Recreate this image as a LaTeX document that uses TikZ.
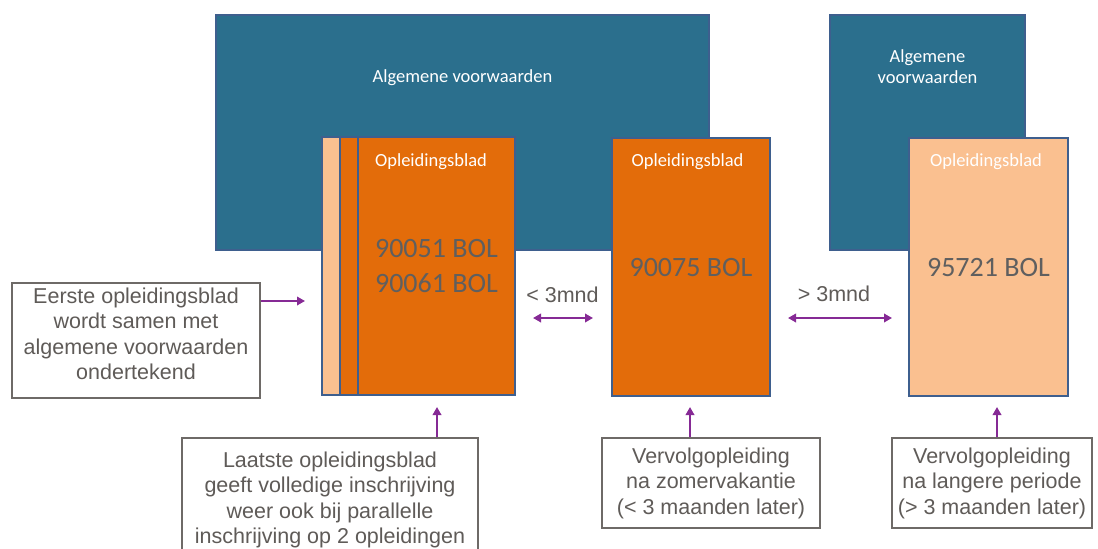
\documentclass[tikz,border=0pt]{standalone}
\usepackage{fontspec}
\setmainfont{Liberation Sans}
\newfontfamily\calib{Carlito}
\usetikzlibrary{arrows.meta}

\definecolor{avblue}{HTML}{2B6F8D}
\definecolor{edgeblue}{HTML}{3E5F8E}
\definecolor{sheetorange}{HTML}{E36C0A}
\definecolor{sheetpeach}{HTML}{FAC090}
\definecolor{numgray}{HTML}{5F5F5F}
\definecolor{notegray}{HTML}{6E6A67}
\definecolor{notetext}{HTML}{5F5B58}
\definecolor{linkpurple}{HTML}{862A95}

\begin{document}
\begin{tikzpicture}[x=1pt,y=-1pt,
  avbox/.style={draw=edgeblue,line width=1.5pt,fill=avblue,inner sep=0pt,minimum height=235pt},
  avtext/.style={text=white,align=center,font=\calib\fontsize{18.5}{21}\selectfont},
  sheet/.style={draw=edgeblue,line width=2pt,inner sep=0pt,minimum width=157pt,minimum height=258pt},
  sheettitle/.style={text=white,font=\calib\fontsize{18.5}{22}\selectfont},
  sheetnum/.style={text=numgray,align=center,font=\calib\fontsize{28}{35}\selectfont},
  note/.style={draw=notegray,line width=1.8pt,fill=white,align=center,text=notetext,
    font=\fontsize{21.5}{25.5}\selectfont,inner sep=0pt},
  notetxt/.style={align=center,text=notetext,font=\fontsize{21.5}{25.5}\selectfont,inner sep=0pt},
  gaplabel/.style={text=notetext,font=\fontsize{21.5}{25}\selectfont},
  link/.style={draw=linkpurple,line width=1.9pt,-{Triangle[length=8pt,width=8.5pt]}},
  dlink/.style={draw=linkpurple,line width=1.9pt,{Triangle[length=8pt,width=8.5pt]}-{Triangle[length=8pt,width=8.5pt]}}]

\useasboundingbox (0,0) rectangle (1098,549);
\clip (0,0) rectangle (1098,549);

% general terms blocks
\node[avbox,minimum width=493pt] (av1) at (462.5,132.5) {};
\node[avtext] (av1t) at (462.5,78) {Algemene voorwaarden};
\node[avbox,minimum width=195pt] (av2) at (927.5,132.5) {};
\node[avtext] (av2t) at (927.5,67) {Algemene\\voorwaarden};

% stacked programme sheets (back to front)
\node[sheet,fill=sheetpeach] (s1c) at (400.5,266) {};
\node[sheet,fill=sheetorange] (s1b) at (418.5,266) {};
\node[sheet,fill=sheetorange] (s1) at (436.5,266) {};
\node[sheettitle] (s1t) at (431,162) {Opleidingsblad};
\node[sheetnum] (s1n) at (436.5,266.5) {90051 BOL\\90061 BOL};

% second programme
\node[sheet,fill=sheetorange,minimum width=158pt] (s2) at (691,266.5) {};
\node[sheettitle] (s2t) at (687.5,162) {Opleidingsblad};
\node[sheetnum] (s2n) at (691,268) {90075 BOL};

% third programme
\node[sheet,fill=sheetpeach,minimum width=159pt] (s3) at (988.5,266.5) {};
\node[sheettitle] (s3t) at (986,162) {Opleidingsblad};
\node[sheetnum] (s3n) at (988.5,268) {95721 BOL};

% gaps between programmes
\node[gaplabel] (g1) at (562.5,295) {< 3mnd};
\coordinate (g1a) at (533,318);
\coordinate (g1b) at (593,318);
\draw[dlink] (g1a) -- (g1b);
\node[gaplabel] (g2) at (834,294) {> 3mnd};
\coordinate (g2a) at (788,318);
\coordinate (g2b) at (892,318);
\draw[dlink] (g2a) -- (g2b);

% explanatory notes
\node[note,minimum width=248pt,minimum height=115pt] (n1) at (136,340.5) {};
\node[notetxt] (n1t) at (136,334)
  {Eerste opleidingsblad\\wordt samen met\\algemene voorwaarden\\ondertekend};
\coordinate (n1tip) at (305,301);
\draw[link] (n1tip -| n1.east) -- (n1tip);

\node[note,minimum width=296pt,minimum height=124pt] (n2) at (330,500)
  {Laatste opleidingsblad\\geeft volledige inschrijving\\weer ook bij parallelle\\inschrijving op 2 opleidingen};
\coordinate (n2tip) at (437,407);
\draw[link] (n2tip |- n2.north) -- (n2tip);

\node[note,minimum width=218pt,minimum height=90pt] (n3) at (711,483)
  {Vervolgopleiding\\na zomervakantie\\(< 3 maanden later)};
\coordinate (n3tip) at (690,407);
\draw[link] (n3tip |- n3.north) -- (n3tip);

\node[note,minimum width=200pt,minimum height=90pt] (n4) at (992,483)
  {Vervolgopleiding\\na langere periode\\(> 3 maanden later)};
\coordinate (n4tip) at (997,407);
\draw[link] (n4tip |- n4.north) -- (n4tip);
\end{tikzpicture}
\end{document}
